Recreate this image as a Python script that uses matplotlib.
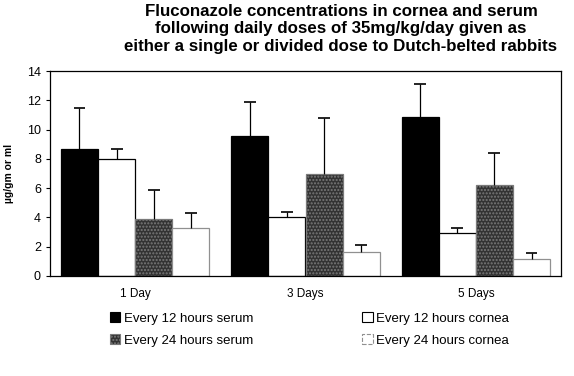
import matplotlib
matplotlib.use("Agg")
import matplotlib.pyplot as plt
import numpy as np
from matplotlib.patches import Patch

plt.rcParams['font.family'] = ['Liberation Sans', 'DejaVu Sans']

days = ["1 Day", "3 Days", "5 Days"]
series = ["Every 12 hours serum", "Every 12 hours cornea",
          "Every 24 hours serum", "Every 24 hours cornea"]
q12_serum = [8.65, 9.56, 10.88]
q12_cornea = [8.02, 4.0, 2.91]
q24_serum = [3.87, 6.97, 6.22]
q24_cornea = [3.26, 1.66, 1.14]
q12_serum_sd = [2.8, 2.3, 2.23]
q12_cornea_sd = [0.63, 0.39, 0.35]
q24_serum_sd = [1.98, 3.8, 2.2]
q24_cornea_sd = [1.07, 0.46, 0.45]

values = [q12_serum, q12_cornea, q24_serum, q24_cornea]
errors = [q12_serum_sd, q12_cornea_sd, q24_serum_sd, q24_cornea_sd]
styles = [dict(color='black', edgecolor='black'),
          dict(color='white', edgecolor='black'),
          dict(color='#333333', edgecolor='#7a7a7a', hatch='.....'),
          dict(color='white', edgecolor='#909090')]

fig = plt.figure(figsize=(5.74, 3.76), dpi=100)
ax = fig.add_axes([50/574, 1-276/376, 511/574, 205/376])

x = np.arange(len(days))
w = 0.218
cap = 0.035
for i, (v, e, st) in enumerate(zip(values, errors, styles)):
    pos = x + (i - 1.5) * w
    v = np.array(v)
    top = v + np.array(e)
    ax.bar(pos, v, w, linewidth=0.9, **st)
    # one-sided error bars, cap on top only
    ax.vlines(pos, v, top, color='black', linewidth=0.9)
    ax.hlines(top, pos - cap, pos + cap, color='black', linewidth=1.2)

ax.set_xlim(-0.5, 2.5)
ax.set_ylim(0, 14)
ax.set_yticks(range(0, 15, 2))
ax.set_xticks(x)
ax.set_xticklabels(days, fontsize=8.5)
ax.tick_params(axis='x', length=0, pad=9)
ax.tick_params(axis='y', labelsize=9, length=3)
ax.set_ylabel("µg/gm or ml", fontsize=7.5, fontweight='bold', labelpad=9)
for s in ax.spines.values():
    s.set_linewidth(0.9)

fig.text(0.594, 0.99, "Fluconazole concentrations in cornea and serum\n"
         "following daily doses of 35mg/kg/day given as\n"
         "either a single or divided dose to Dutch-belted rabbits",
         ha='center', va='top', fontsize=12.2, fontweight='bold', linespacing=1.22)

handles = [Patch(facecolor=st['color'], edgecolor=st['edgecolor'],
                 hatch=st.get('hatch'), linewidth=0.8,
                 linestyle='--' if i == 3 else '-') for i, st in enumerate(styles)]
order = [0, 2, 1, 3]
fig.legend([handles[i] for i in order], [series[i] for i in order],
           loc='upper left', bbox_to_anchor=(98/574, 1-300/376), ncol=2,
           frameon=False, fontsize=9.5, handlelength=0.8, handleheight=0.8,
           handletextpad=0.3, columnspacing=8.2, labelspacing=0.75)

fig.savefig("out.png", dpi=100)
